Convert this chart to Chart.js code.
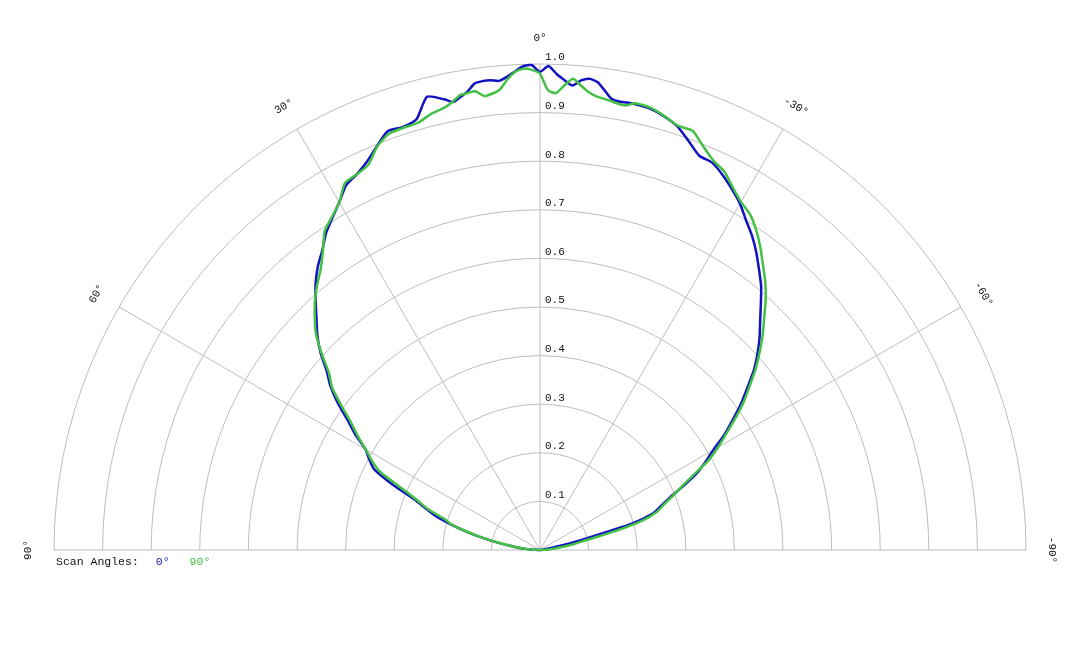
<!DOCTYPE html>
<html>
<head>
<meta charset="utf-8">
<script src="https://cdn.jsdelivr.net/npm/chart.js@4/dist/chart.umd.min.js"></script>
<style>
  html, body { margin: 0; padding: 0; background: #fff; }
  canvas { display: block; }
</style>
</head>
<body>
<canvas id="polarChart" width="1080" height="648"></canvas>
<script>
// scan angle labels (series) and polar axes
const scanLabels = ['0°', '90°'];
const angleTicks = [90, 60, 30, 0, -30, -60, -90];
const radialTicks = [0.1, 0.2, 0.3, 0.4, 0.5, 0.6, 0.7, 0.8, 0.9, 1.0];

// measurement angles in degrees (positive = left side)
const angles = [
    90, 88, 86, 84, 82, 80, 78, 76, 74, 72,
    70, 68, 66, 64, 62, 60, 58, 56, 54, 52,
    50, 48, 46, 44, 42, 40, 38, 36, 34, 32,
    30, 28, 26, 24, 22, 20, 18, 16, 14,
    12, 11, 10, 9, 8, 7, 6, 5, 4, 3, 2, 1, 0,
    -1, -2, -3, -4, -5, -6, -7, -8, -9, -10, -11, -12,
    -14, -16, -18, -20, -22, -24, -26, -28, -30, -32,
    -34, -36, -38, -40, -42, -44, -46, -48, -50, -52,
    -54, -56, -58, -60, -62, -64, -66, -68, -70, -72,
    -74, -76, -78, -80, -82, -84, -86, -88, -90
];

// normalised intensity, scan angle 0°
const scan0 = [
    0, 0.01, 0.026, 0.045, 0.062, 0.09, 0.122, 0.155, 0.19, 0.225,
    0.25, 0.28, 0.333, 0.38, 0.398, 0.415, 0.448, 0.477, 0.514, 0.547,
    0.573, 0.608, 0.637, 0.662, 0.69, 0.718, 0.742, 0.762, 0.787, 0.806,
    0.826, 0.85, 0.86, 0.875, 0.896, 0.917, 0.915, 0.922, 0.961,
    0.948, 0.939, 0.946, 0.955, 0.969, 0.972, 0.972, 0.969, 0.976, 0.986, 0.996, 0.998, 0.984,
    0.996, 0.98, 0.968, 0.958, 0.97, 0.975, 0.97, 0.955, 0.94, 0.937, 0.938, 0.938,
    0.936, 0.928, 0.916, 0.895, 0.875, 0.872, 0.858, 0.841, 0.823, 0.8,
    0.78, 0.757, 0.732, 0.708, 0.679, 0.652, 0.628, 0.602, 0.574, 0.541,
    0.511, 0.478, 0.447, 0.412, 0.385, 0.358, 0.322, 0.288, 0.265, 0.245,
    0.195, 0.095, 0.047, 0.02, 0.01, 0.005, 0, 0, 0
];

// normalised intensity, scan angle 90°
const scan90 = [
    0, 0.01, 0.025, 0.043, 0.062, 0.088, 0.12, 0.153, 0.188, 0.207,
    0.245, 0.272, 0.31, 0.365, 0.392, 0.414, 0.442, 0.469, 0.505, 0.543,
    0.567, 0.605, 0.641, 0.667, 0.692, 0.713, 0.733, 0.76, 0.792, 0.808,
    0.826, 0.855, 0.86, 0.868, 0.895, 0.911, 0.913, 0.914, 0.925,
    0.932, 0.94, 0.95, 0.952, 0.953, 0.941, 0.944, 0.951, 0.97, 0.985, 0.991, 0.988, 0.98,
    0.946, 0.941, 0.957, 0.972, 0.96, 0.948, 0.941, 0.938, 0.935, 0.932, 0.932, 0.94,
    0.938, 0.929, 0.918, 0.918, 0.896, 0.877, 0.866, 0.845, 0.827, 0.815,
    0.795, 0.771, 0.745, 0.721, 0.694, 0.664, 0.637, 0.608, 0.579, 0.547,
    0.518, 0.485, 0.452, 0.423, 0.392, 0.351, 0.318, 0.293, 0.27, 0.252,
    0.218, 0.156, 0.096, 0.072, 0.048, 0.03, 0.018, 0.008, 0
];

const colors = ['#1212c2', '#44c044'];

// pole position and radius of the 1.0 ring in canvas pixels
const W = 1080, H = 648, CX = 540, CY = 550, RPX = 486;

const deg = Math.PI / 180;
function toXY(values) {
    return angles.map((a, i) => ({
        x: -values[i] * Math.sin(a * deg),
        y: values[i] * Math.cos(a * deg)
    }));
}

const FONT = '"Liberation Mono", "DejaVu Sans Mono", monospace';

const polarGrid = {
    id: 'polarGrid',
    beforeDatasetsDraw(chart) {
        const { ctx, scales: { x, y } } = chart;
        const cx = x.getPixelForValue(0), cy = y.getPixelForValue(0);
        const rad = v => x.getPixelForValue(v) - cx;
        const R = rad(1);
        ctx.save();
        ctx.strokeStyle = '#bdbdbd';
        ctx.lineWidth = 1;
        radialTicks.forEach(v => {
            ctx.beginPath();
            ctx.arc(cx, cy, rad(v), Math.PI, 2 * Math.PI);
            ctx.stroke();
        });
        angleTicks.forEach(a => {
            ctx.beginPath();
            ctx.moveTo(cx, cy);
            ctx.lineTo(cx - R * Math.sin(a * deg), cy - R * Math.cos(a * deg));
            ctx.stroke();
        });

        ctx.fillStyle = '#111';
        ctx.font = '11px ' + FONT;
        ctx.textAlign = 'left';
        ctx.textBaseline = 'bottom';
        radialTicks.forEach(v => {
            ctx.fillText(v.toFixed(1), cx + 5, cy - rad(v) - 1);
        });

        ctx.textAlign = 'center';
        ctx.textBaseline = 'middle';
        angleTicks.forEach(a => {
            const r = R + 26;
            ctx.save();
            ctx.translate(cx - r * Math.sin(a * deg), cy - r * Math.cos(a * deg));
            ctx.rotate(-a * deg);
            ctx.fillText(a + '°', 0, 0);
            ctx.restore();
        });
        ctx.restore();
    },
    afterDraw(chart) {
        const ctx = chart.ctx;
        ctx.save();
        ctx.font = '11.5px ' + FONT;
        ctx.textAlign = 'left';
        ctx.textBaseline = 'middle';
        ctx.fillStyle = '#111';
        let px = 56;
        const py = 562;
        ctx.fillText('Scan Angles:', px, py);
        px += ctx.measureText('Scan Angles:').width + 17;
        chart.data.datasets.forEach(ds => {
            ctx.fillStyle = ds.borderColor;
            ctx.fillText(ds.label, px, py);
            px += ctx.measureText(ds.label).width + 20;
        });
        ctx.restore();
    }
};

const chart = new Chart(document.getElementById('polarChart'), {
    type: 'scatter',
    data: {
        datasets: [
            // 90° scan is drawn over the 0° scan
            { label: scanLabels[0], data: toXY(scan0), borderColor: colors[0], order: 1 },
            { label: scanLabels[1], data: toXY(scan90), borderColor: colors[1], order: 0 }
        ].map(ds => Object.assign(ds, {
            showLine: true,
            pointRadius: 0,
            borderWidth: 2.5,
            tension: 0.2,
            fill: false
        }))
    },
    options: {
        responsive: false,
        animation: false,
        layout: { padding: 0 },
        plugins: {
            legend: { display: false },
            tooltip: { enabled: false }
        },
        scales: {
            x: { type: 'linear', display: false, min: -CX / RPX, max: (W - CX) / RPX },
            y: { type: 'linear', display: false, min: -(H - CY) / RPX, max: CY / RPX }
        }
    },
    plugins: [polarGrid]
});
</script>
</body>
</html>
